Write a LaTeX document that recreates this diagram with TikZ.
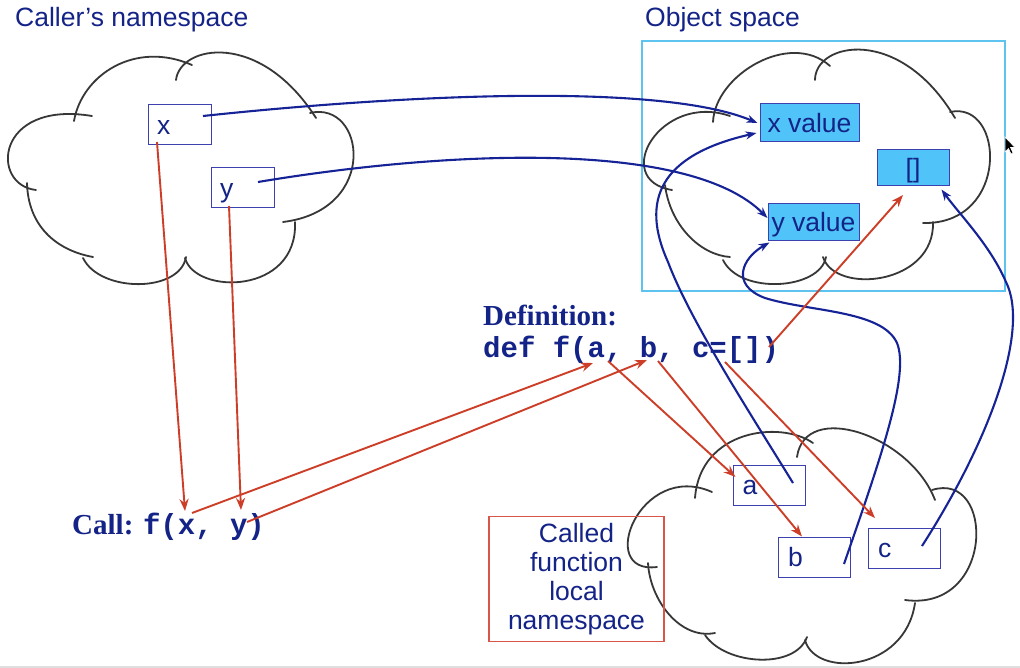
\documentclass[tikz,border=0pt]{standalone}
\usepackage{fontspec}
\setmainfont{Liberation Sans}
\newfontfamily\tmsfont{Liberation Serif}
\newfontfamily\crrfont{Liberation Mono}
\usetikzlibrary{arrows.meta,calc}
\definecolor{navy}{RGB}{20,35,135}
\definecolor{arrowblue}{RGB}{22,35,150}
\definecolor{arrowred}{RGB}{205,62,40}
\definecolor{boxline}{RGB}{60,65,175}
\definecolor{valfill}{RGB}{80,196,248}
\definecolor{spaceline}{RGB}{95,195,240}
\definecolor{calledline}{RGB}{215,85,75}
\definecolor{cloudgray}{RGB}{55,55,55}
\begin{document}
\begin{tikzpicture}[x=1pt,y=-1pt,
  bigfont/.style={font=\fontsize{26.5}{29}\selectfont},
  title/.style={bigfont, text=navy, inner sep=0pt, anchor=base west},
  codetext/.style={font=\fontsize{29}{31}\selectfont, text=navy, inner sep=0pt, anchor=base west},
  cloudline/.style={draw=cloudgray, line width=1.8pt, line cap=round},
  namebox/.style={draw=boxline, line width=1pt, bigfont, text=navy, minimum height=40pt,
    inner xsep=9pt, align=left, text height=19pt, text depth=0pt},
  valbox/.style={draw=boxline, line width=1pt, fill=valfill, bigfont, text=navy,
    inner sep=0pt, align=center, text height=19pt, text depth=0pt},
  barrow/.style={draw=arrowblue, line width=2.1pt, -{Stealth[length=11pt,width=8pt]}},
  rarrow/.style={draw=arrowred, line width=1.9pt, -{Stealth[length=12pt,width=9pt]}}]
\useasboundingbox (0,0) rectangle (1020,668);
\fill[white] (0,0) rectangle (1020,668);
\draw[gray!25, line width=2pt] (0,667) -- (1020,667);

% ---------- titles ----------
\node[title] (tcaller) at (15,27) {Caller’s namespace};
\node[title] (tobject) at (645,27) {Object space};

% ---------- object space frame ----------
\draw[spaceline, line width=2.2pt] (642,41) rectangle (1005,291);

% ---------- caller cloud ----------
\draw[cloudline] (36,190) .. controls (-10,185) and (-5,100) .. (92,116);
\draw[cloudline] (74,121) .. controls (82,75) and (135,40) .. (192,65);
\draw[cloudline] (176,80) .. controls (180,45) and (260,30) .. (316,118);
\draw[cloudline] (310,113) .. controls (365,100) and (380,210) .. (283,222);
\draw[cloudline] (295,222) .. controls (298,295) and (195,295) .. (185,258);
\draw[cloudline] (186,257) .. controls (180,293) and (100,293) .. (83,258);
\draw[cloudline] (93,257) .. controls (55,250) and (28,225) .. (27,183);

% ---------- object cloud ----------
\draw[cloudline] (730,116) .. controls (660,92) and (610,180) .. (672,190);
\draw[cloudline] (713,122) .. controls (715,75) and (790,30) .. (830,66);
\draw[cloudline] (815,80) .. controls (815,42) and (900,25) .. (955,118);
\draw[cloudline] (950,112) .. controls (1005,100) and (1010,225) .. (923,223);
\draw[cloudline] (933,222) .. controls (935,285) and (835,295) .. (823,257);
\draw[cloudline] (826,257) .. controls (820,290) and (740,295) .. (723,260);
\draw[cloudline] (730,257) .. controls (700,255) and (670,225) .. (665,185);

% ---------- local cloud ----------
\draw[cloudline] (712,492) .. controls (640,460) and (595,575) .. (657,567);
\draw[cloudline] (648,563) .. controls (650,600) and (680,640) .. (715,633);
\draw[cloudline] (705,635) .. controls (725,665) and (795,670) .. (807,637);
\draw[cloudline] (805,640) .. controls (815,678) and (905,672) .. (915,603);
\draw[cloudline] (905,600) .. controls (995,612) and (995,470) .. (932,490);
\draw[cloudline] (935,500) .. controls (910,435) and (805,400) .. (797,457);
\draw[cloudline] (813,443) .. controls (780,420) and (700,430) .. (695,498);

% ---------- boxes ----------
\node[namebox, minimum width=63pt, text width=45pt] (xb) at (179.5,125) {x};
\node[namebox, minimum width=63pt, text width=45pt] (yb) at (242.5,188) {y};
\node[namebox, minimum width=72pt, text width=53pt] (ab) at (769,485) {a};
\node[namebox, minimum width=72pt, text width=52pt, inner xsep=10pt] (bb) at (814,557) {b};
\node[namebox, minimum width=72pt, text width=52pt, inner xsep=10pt] (cb) at (904,548) {c};
\node[valbox, minimum width=99pt, minimum height=38pt] (xv) at (809.5,123) {x value};
\node[valbox, minimum width=91pt, minimum height=37pt] (yv) at (813.5,222.5) {y value};
\node[valbox, minimum width=72pt, minimum height=36pt] (lv) at (913,168) {[]};

\node[draw=calledline, line width=1.1pt, bigfont, text=navy, align=center,
  minimum width=175pt, minimum height=125pt, inner sep=0pt] (called) at (576.5,579)
  {Called\\function\\local\\namespace};

% ---------- code texts ----------
\node[codetext] (defhead) at (483,326) {\tmsfont\bfseries Definition:};
\node[codetext] (defline) at (483,357) {\crrfont\bfseries def f(a, b, c=[])};
\node[codetext] (callline) at (72,534) {\tmsfont\bfseries Call: \crrfont f(x, y)};

% ---------- connector end points ----------
\coordinate (xs) at (203,116);
\coordinate (ys) at (258,182);
\coordinate (as) at (793,483);
\coordinate (bs) at (844,564);
\coordinate (cs) at (922,546);
\coordinate (xr) at (157,142);
\coordinate (yr) at (229,206);
\coordinate (callx) at (185,511);
\coordinate (cally) at (241,510);
\coordinate (callxs) at (192,513);
\coordinate (callys) at (247,522);
\coordinate (defa) at (593,363);
\coordinate (defb) at (647,360);
\coordinate (defas) at (608,361);
\coordinate (defbs) at (658,361);
\coordinate (defcs) at (725,362);
\coordinate (defls) at (769,347);
\coordinate (ctip) at (875,518);
\coordinate (ltip) at (903,195);

% ---------- blue references ----------
\draw[barrow] (xs) .. controls (400,95) and (660,82) .. ($(xv.west)+(-2,0)$);
\draw[barrow] (ys) .. controls (450,150) and (690,140) .. ($(yv.west)+(0,-4.5)$);
\draw[barrow] (as) .. controls (745,405) and (690,320) .. (668,262)
  .. controls (640,200) and (660,155) .. ($(xv.west)+(-3,10)$);
\draw[barrow] (bs) .. controls (880,460) and (910,375) .. (897,343)
  .. controls (882,310) and (810,312) .. (765,298)
  .. controls (730,285) and (742,258) .. ($(yv.south west)+(2,1)$);
\draw[barrow] (cs) .. controls (990,440) and (1030,330) .. (1006,282)
  .. controls (990,245) and (960,215) .. ($(lv.south east)+(-8,3)$);

% ---------- red bindings ----------
\draw[rarrow] (xr) -- (callx);
\draw[rarrow] (yr) -- (cally);
\draw[rarrow] (callxs) -- (defa);
\draw[rarrow] (callys) -- (defb);
\draw[rarrow] (defas) -- ($(ab.west)+(3,-8)$);
\draw[rarrow] (defbs) -- ($(bb.north)+(-12,0)$);
\draw[rarrow] (defcs) -- (ctip);
\draw[rarrow] (defls) -- (ltip);

% ---------- mouse pointer ----------
\filldraw[fill=black, draw=white, line width=0.6pt] (1005,137) -- (1005,152) -- (1008.5,148.5)
  -- (1011,154) -- (1013,153) -- (1010.5,147.5) -- (1015,147.5) -- cycle;
\end{tikzpicture}
\end{document}
